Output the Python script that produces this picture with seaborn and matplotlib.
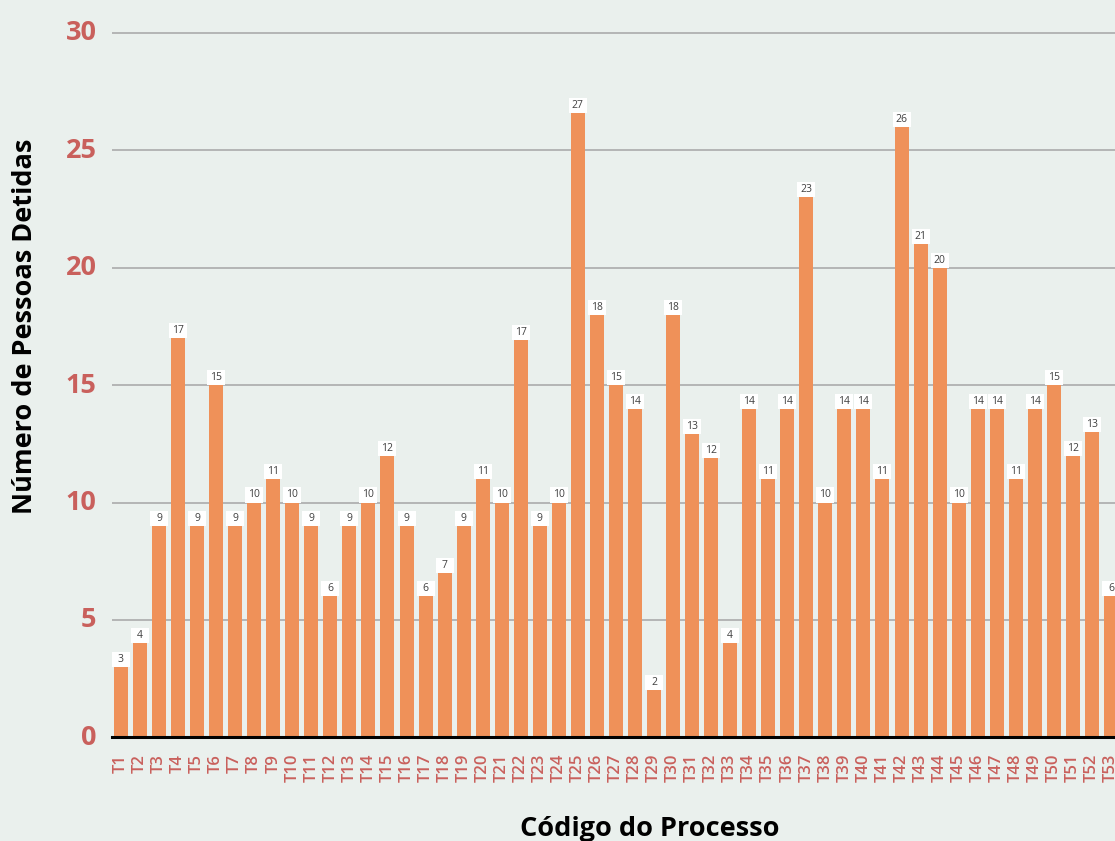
import matplotlib
matplotlib.use("Agg")
import matplotlib.pyplot as plt
import matplotlib.transforms as mtransforms
import seaborn as sns
import pandas as pd
import numpy as np

# ---- data ----
codes = [f"T{i}" for i in range(1, 54)]
detidos = [3, 4, 9, 17, 9, 15, 9, 10, 11, 10, 9, 6, 9, 10, 12, 9, 6, 7, 9, 11,
           10, 16.9, 9, 10, 26.6, 18, 15, 14, 2, 18, 12.9, 11.9, 4, 14, 11, 14, 23, 10, 14, 14,
           11, 26, 21, 20, 10, 14, 14, 11, 14, 15, 12, 13, 6]
y_ticks = [0, 5, 10, 15, 20, 25, 30]

df = pd.DataFrame({"codigo": codes, "n": detidos})

BG = "#EAF0ED"
BAR = "#EF9159"
RED = "#C9605C"

sns.set_theme(style="white")
plt.rcParams["font.family"] = ["Open Sans", "DejaVu Sans"]

fig = plt.figure(figsize=(11.15, 8.41), dpi=100, facecolor=BG)
ax = fig.add_axes([0.1004, 0.1233, 0.905, 0.8655])
ax.set_facecolor(BG)

sns.barplot(data=df, x="codigo", y="n", color=BAR, saturation=1, width=0.735,
            edgecolor="none", linewidth=0, ax=ax, zorder=2)

# value label boxes
pos = np.arange(len(codes))
vals = np.array(detidos, dtype=float)
box_h = 0.64
ax.bar(pos, box_h, bottom=vals, width=0.945, color="white", linewidth=0, zorder=3)
for x, v in zip(pos, vals):
    ax.text(x, v + box_h / 2, f"{v:.0f}", ha="center", va="center",
            fontsize=7.5, color="#404040", zorder=4)

ax.set_xlim(-0.473, 52.53)
ax.set_ylim(0, 31)
ax.set_yticks(y_ticks)
ax.set_yticklabels([str(t) for t in y_ticks])
ax.grid(axis="y", color="#ABABAB", linewidth=1.2, zorder=0)
ax.set_axisbelow(True)

for s in ["top", "right", "left"]:
    ax.spines[s].set_visible(False)
ax.spines["bottom"].set_color("black")
ax.spines["bottom"].set_linewidth(2.2)
ax.spines["bottom"].set_zorder(5)

ax.tick_params(axis="y", length=0, pad=11, labelsize=19.5, labelcolor=RED)
ax.tick_params(axis="x", length=0, pad=12, labelsize=12, labelcolor=RED, rotation=90)
up = mtransforms.ScaledTranslation(0, 2.5 / 100, fig.dpi_scale_trans)
for lab in ax.get_yticklabels():
    lab.set_fontweight("bold")
    lab.set_transform(lab.get_transform() + up)
for lab in ax.get_xticklabels():
    lab.set_fontweight("semibold")

ax.set_xlabel("Código do Processo", fontsize=19.5, fontweight="bold", color="black")
ax.set_ylabel("Número de Pessoas Detidas", fontsize=19.5, fontweight="bold", color="black")
ax.xaxis.set_label_coords(0.533, -0.1085)
ax.yaxis.set_label_coords(-0.073, 0.564)

fig.savefig("out.png", dpi=100, facecolor=BG)
